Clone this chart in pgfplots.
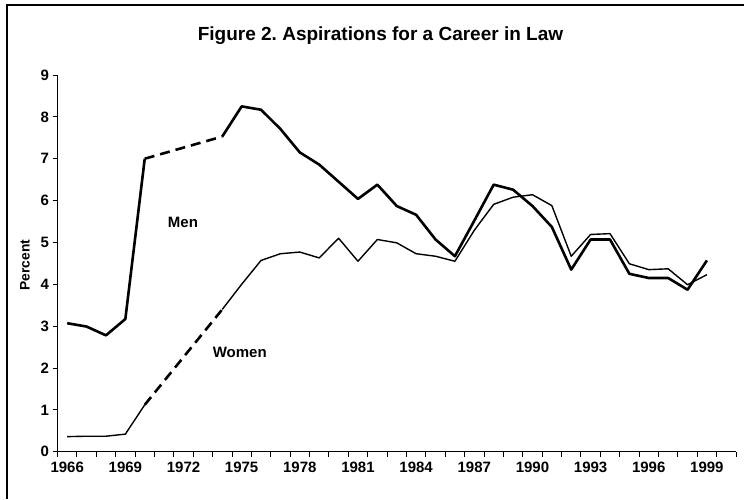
\documentclass[border=0pt]{standalone}
\usepackage{fontspec}
\setmainfont{Liberation Sans}
\usepackage{pgfplots}
\pgfplotsset{compat=1.18}
\frenchspacing

\begin{document}
\begin{tikzpicture}
\begin{axis}[
    at={(0,0)}, anchor=south west,
    scale only axis,
    width=678.5pt, height=376.7pt,
    xmin=1965.5, xmax=2000.5,
    ymin=0, ymax=9,
    axis x line=bottom, axis y line=left,
    axis line style={-, line width=1pt},
    tick align=outside,
    major tick length=5pt,
    tick style={line width=0.8pt, black},
    xtick={1965.5,1966.5,...,2000.5},
    xticklabels={},
    extra x ticks={1966,1969,...,1999},
    extra x tick style={major tick length=0pt,
        xticklabel style={yshift=-7pt}},
    ytick={0,1,...,9},
    /pgf/number format/1000 sep={},
    /pgf/number format/assume math mode=true,
    tick label style={font=\fontsize{15}{15}\selectfont\bfseries},
    clip=false,
]
% Men, solid parts
\addplot[black, line width=2.6pt, line join=round] coordinates {
    (1966,3.07) (1967,2.99) (1968,2.78) (1969,3.17) (1970,7.00)
};
\addplot[black, line width=2.6pt, dash pattern=on 10pt off 6pt] coordinates {
    (1970,7.00) (1974,7.53)
};
\addplot[black, line width=2.6pt, line join=round] coordinates {
    (1974,7.53) (1975,8.25) (1976,8.17) (1977,7.71) (1978,7.15) (1979,6.86)
    (1980,6.45) (1981,6.04) (1982,6.38) (1983,5.87) (1984,5.66) (1985,5.07)
    (1986,4.67) (1987,5.52) (1988,6.38) (1989,6.26) (1990,5.87) (1991,5.37)
    (1992,4.35) (1993,5.07) (1994,5.07) (1995,4.25) (1996,4.15) (1997,4.15)
    (1998,3.87) (1999,4.57)
};
% Women
\addplot[black, line width=1.4pt, line join=round] coordinates {
    (1966,0.36) (1967,0.37) (1968,0.37) (1969,0.42) (1970,1.12)
};
\addplot[black, line width=2.6pt, dash pattern=on 10pt off 6pt] coordinates {
    (1970,1.12) (1974,3.40)
};
\addplot[black, line width=1.4pt, line join=round] coordinates {
    (1974,3.40) (1975,4.00) (1976,4.57) (1977,4.73) (1978,4.77) (1979,4.63)
    (1980,5.10) (1981,4.55) (1982,5.07) (1983,4.99) (1984,4.73) (1985,4.67)
    (1986,4.55) (1987,5.29) (1988,5.91) (1989,6.08) (1990,6.14) (1991,5.88)
    (1992,4.67) (1993,5.19) (1994,5.21) (1995,4.49) (1996,4.35) (1997,4.37)
    (1998,3.99) (1999,4.23)
};
\node[font=\fontsize{15}{15}\selectfont\bfseries] at (axis cs:1971.97,5.49) {Men};
\node[font=\fontsize{15}{15}\selectfont\bfseries] at (axis cs:1974.9,2.37) {Women};
\end{axis}
% frame and labels
\path[use as bounding box] (-57.5pt,-47.3pt) rectangle (686.5pt,451.7pt);
\draw[line width=1.3pt] (-50.5pt,-47.3pt) -- (-50.5pt,446.7pt) -- (686.5pt,446.7pt);
\node[anchor=base, font=\fontsize{19}{19}\selectfont\bfseries] at (323pt,410.7pt)
    {Figure 2. Aspirations for a Career in Law};
\node[rotate=90, font=\fontsize{13.8}{13.8}\selectfont\bfseries] at (-32.5pt,186.7pt) {Percent};
\end{tikzpicture}
\end{document}
